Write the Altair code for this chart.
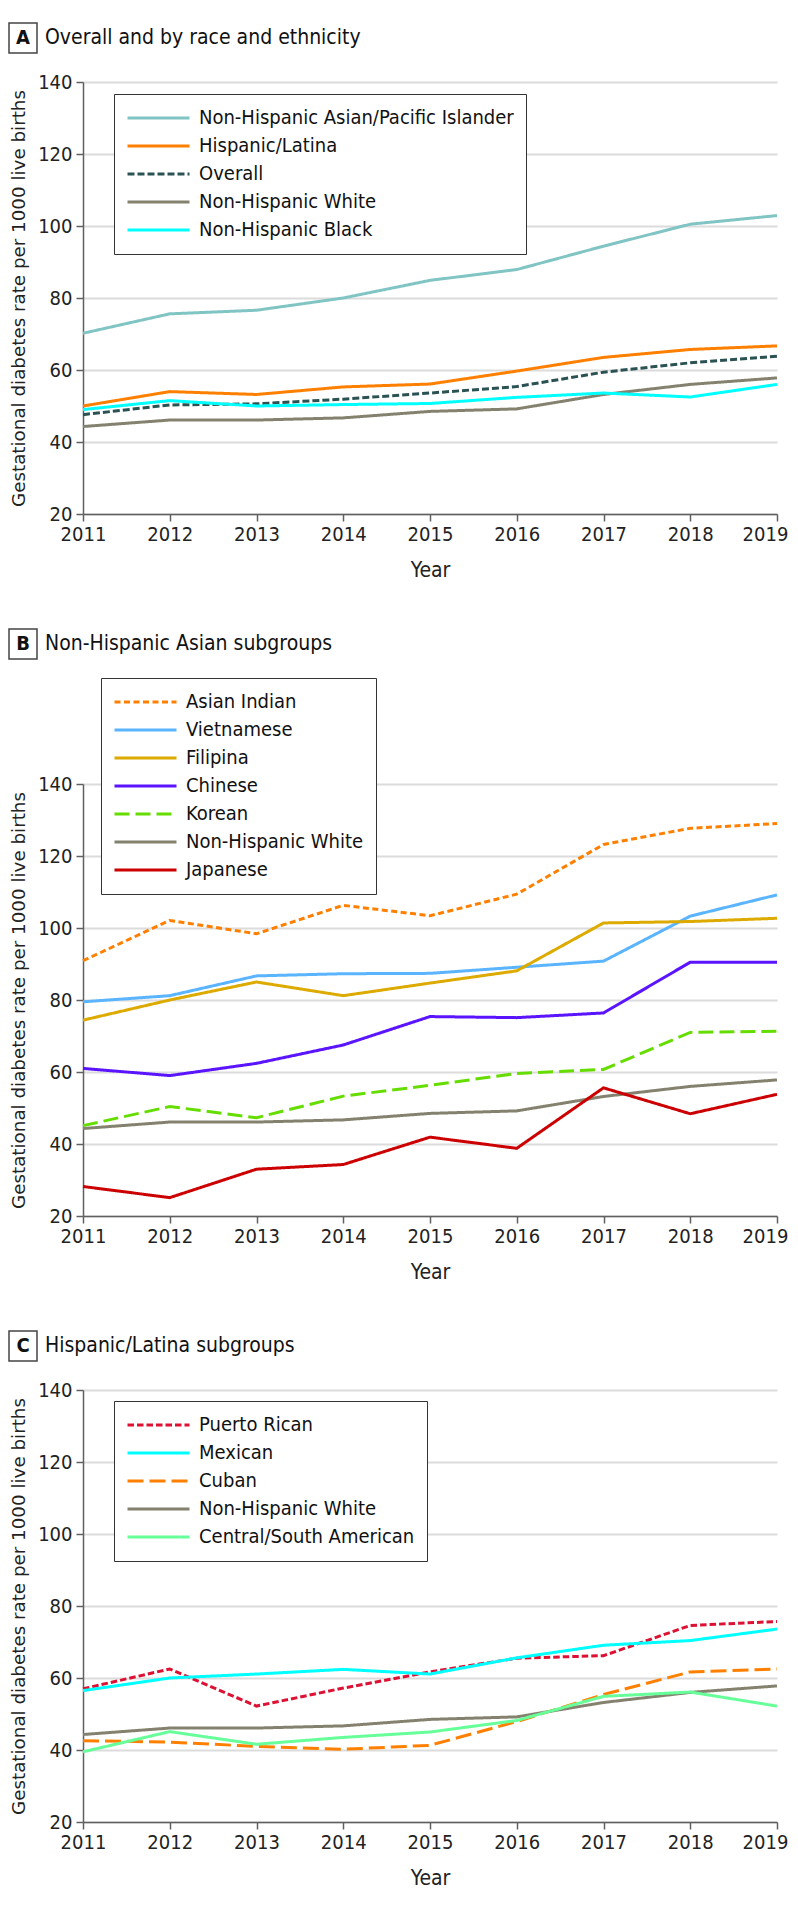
import altair as alt
import pandas as pd

years = [2011, 2012, 2013, 2014, 2015, 2016, 2017, 2018, 2019]
y_ticks = [20, 40, 60, 80, 100, 120, 140]

# ---------- Panel A ----------
a_names = ["Non-Hispanic Asian/Pacific Islander", "Hispanic/Latina", "Overall",
           "Non-Hispanic White", "Non-Hispanic Black"]
a_asian_pi = [70.2, 75.6, 76.6, 80.0, 84.9, 87.9, 94.4, 100.5, 102.9]
a_hispanic = [50.0, 54.0, 53.2, 55.3, 56.1, 59.7, 63.5, 65.7, 66.7]
a_overall = [47.6, 50.3, 50.6, 51.9, 53.6, 55.4, 59.4, 62.0, 63.8]
nh_white = [44.3, 46.1, 46.1, 46.7, 48.5, 49.2, 53.2, 56.0, 57.8]
a_black = [49.0, 51.5, 50.0, 50.4, 50.7, 52.4, 53.6, 52.5, 56.0]
a_colors = ["#80c4c4", "#ff8000", "#2b5252", "#84826f", "#00ffff"]
a_dashes = [[1, 0], [1, 0], [7, 3], [1, 0], [1, 0]]

# ---------- Panel B ----------
b_names = ["Asian Indian", "Vietnamese", "Filipina", "Chinese", "Korean",
           "Non-Hispanic White", "Japanese"]
b_asian_indian = [90.9, 102.1, 98.4, 106.3, 103.4, 109.4, 123.2, 127.7, 129.0]
b_vietnamese = [79.5, 81.2, 86.7, 87.3, 87.4, 89.1, 90.8, 103.3, 109.2]
b_filipina = [74.4, 80.0, 85.0, 81.2, 84.7, 88.1, 101.4, 101.8, 102.7]
b_chinese = [61.0, 59.0, 62.4, 67.5, 75.4, 75.1, 76.4, 90.5, 90.5]
b_korean = [45.1, 50.4, 47.3, 53.3, 56.3, 59.6, 60.7, 71.0, 71.3]
b_japanese = [28.2, 25.1, 33.0, 34.3, 41.9, 38.8, 55.6, 48.4, 53.8]
b_colors = ["#ff8000", "#5ab4ff", "#ddaa00", "#5a14ff", "#66dd00", "#84826f", "#cc0000"]
b_dashes = [[6, 3.5], [1, 0], [1, 0], [1, 0], [15, 6], [1, 0], [1, 0]]

# ---------- Panel C ----------
c_names = ["Puerto Rican", "Mexican", "Cuban", "Non-Hispanic White",
           "Central/South American"]
c_puerto_rican = [57.0, 62.5, 52.2, 57.2, 61.7, 65.5, 66.2, 74.6, 75.7]
c_mexican = [56.5, 60.0, 61.1, 62.4, 61.1, 65.6, 69.1, 70.4, 73.6]
c_cuban = [42.6, 42.2, 41.0, 40.2, 41.3, 47.9, 55.4, 61.7, 62.5]
c_central_south = [39.5, 45.1, 41.6, 43.5, 45.0, 48.2, 54.9, 56.1, 52.2]
c_colors = ["#dd1133", "#00ffff", "#ff8000", "#84826f", "#66ff99"]
c_dashes = [[6.5, 3], [1, 0], [16, 6], [1, 0], [1, 0]]

COND = "DejaVu Sans Condensed, Liberation Sans Narrow, Arial Narrow, sans-serif"
YTITLE_FONT = "DejaVu Sans, Verdana, sans-serif"
AXIS_GREY = "#606060"
YTITLE = "Gestational diabetes rate per 1000 live births"


def panel(letter, title, names, series, colors, dashes, height, yrange,
          legend_x, legend_y, title_y):
    rows = []
    for name, vals in zip(names, series):
        for yr, v in zip(years, vals):
            rows.append({"year": yr, "rate": v, "series": name})
    df = pd.DataFrame(rows)

    leg = alt.Legend(
        title=None, orient="none", legendX=legend_x, legendY=legend_y,
        symbolType="stroke", symbolSize=3844, symbolStrokeWidth=3,
        labelFont=COND, labelFontSize=20, labelColor="#111111",
        labelOffset=8, labelLimit=500, rowPadding=4, clipHeight=24,
        padding=12, strokeColor="#333333", fillColor="white",
    )
    if yrange is not None:
        yscale = alt.Scale(domain=[20, 140], nice=False, zero=False, range=yrange)
    else:
        yscale = alt.Scale(domain=[20, 140], nice=False, zero=False)

    lines = alt.Chart(df).mark_line(strokeWidth=3).encode(
        x=alt.X("year:Q",
                scale=alt.Scale(domain=[2011, 2019], nice=False, zero=False),
                axis=alt.Axis(values=years, format="d", title="Year", grid=False,
                              tickSize=7, tickColor=AXIS_GREY, tickWidth=1.5,
                              domainColor=AXIS_GREY, domainWidth=1.5,
                              labelFont=COND, labelFontSize=20, labelColor="#222222",
                              labelPadding=3, labelFlush=False, labelOverlap=False,
                              labelOffset={"condition": {"test": "datum.value == 2019",
                                                         "value": -12},
                                           "value": 0},
                              titleFont=COND, titleFontSize=21, titleFontWeight="normal",
                              titleColor="#222222", titleY=56, titleBaseline="middle")),
        y=alt.Y("rate:Q", scale=yscale,
                axis=alt.Axis(values=y_ticks, title=YTITLE, grid=True,
                              gridColor="#dcdcdc", gridWidth=2,
                              tickSize=7, tickColor=AXIS_GREY, tickWidth=1.5,
                              domainColor=AXIS_GREY, domainWidth=1.5,
                              labelFont=COND, labelFontSize=20, labelColor="#222222",
                              labelPadding=4, labelOverlap=False,
                              titleFont=YTITLE_FONT, titleFontSize=18.3,
                              titleFontWeight="normal", titleColor="#222222",
                              titleX=-64, titleY=title_y, titleAngle=270,
                              titleAlign="center", titleBaseline="middle")),
        color=alt.Color("series:N", scale=alt.Scale(domain=names, range=colors), legend=leg),
        strokeDash=alt.StrokeDash("series:N", scale=alt.Scale(domain=names, range=dashes),
                                  legend=leg),
    )

    head = pd.DataFrame({"letter": [letter], "title": [title]})
    box = alt.Chart(head).mark_rect(fill="white", stroke="#444444", strokeWidth=1.5).encode(
        x=alt.value(-74), x2=alt.value(-46), y=alt.value(-59), y2=alt.value(-29))
    let = alt.Chart(head).mark_text(font=COND, fontSize=20, fontWeight="bold",
                                    color="#111111", align="center",
                                    baseline="middle").encode(
        x=alt.value(-60), y=alt.value(-44), text="letter:N")
    ttl = alt.Chart(head).mark_text(font=COND, fontSize=21, color="#111111",
                                    align="left", baseline="middle").encode(
        x=alt.value(-38), y=alt.value(-44), text="title:N")

    return alt.layer(lines, box, let, ttl).properties(width=694, height=height)


pa = panel("A", "Overall and by race and ethnicity", a_names,
           [a_asian_pi, a_hispanic, a_overall, nh_white, a_black],
           a_colors, a_dashes, 432, None, 31, 12, 216)
pb = panel("B", "Non-Hispanic Asian subgroups", b_names,
           [b_asian_indian, b_vietnamese, b_filipina, b_chinese, b_korean, nh_white, b_japanese],
           b_colors, b_dashes, 528, [528, 96], 18, -10, 312)
pc = panel("C", "Hispanic/Latina subgroups", c_names,
           [c_puerto_rican, c_mexican, c_cuban, nh_white, c_central_south],
           c_colors, c_dashes, 432, None, 31, 11, 216)

chart = alt.vconcat(pa, pb, pc, spacing=174, bounds="flush").resolve_scale(
    color="independent", strokeDash="independent"
).properties(
    padding={"left": 0, "top": 14, "right": 0, "bottom": 0}
).configure_view(stroke=None)

chart.save("out.html", embed_options={"renderer": "svg", "actions": False})
